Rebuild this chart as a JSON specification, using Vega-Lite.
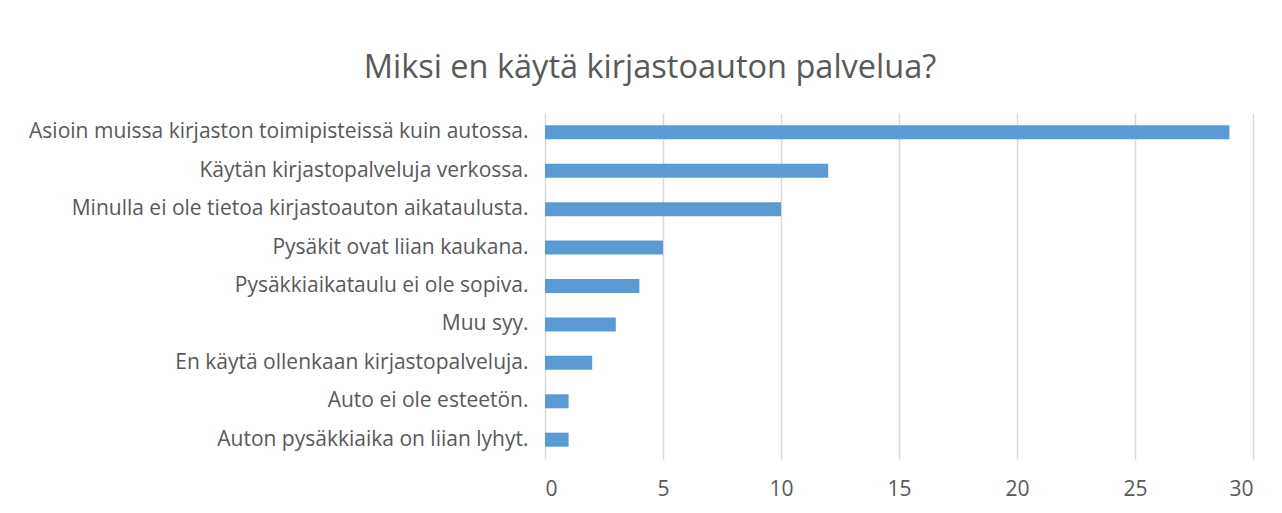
{
  "$schema": "https://vega.github.io/schema/vega-lite/v6.json",
  "autosize": "none",
  "width": 708,
  "height": 346,
  "padding": {"left": 545, "top": 113, "right": 29, "bottom": 54},
  "background": "white",
  "title": {
    "text": "Miksi en käytä kirjastoauton palvelua?",
    "font": "Open Sans",
    "fontSize": 32.5,
    "fontWeight": "normal",
    "color": "#595959",
    "anchor": "middle",
    "dx": -249,
    "offset": 29
  },
  "data": {
    "values": [
      {"syy": "Asioin muissa kirjaston toimipisteissä kuin autossa.", "n": 29},
      {"syy": "Käytän kirjastopalveluja verkossa.", "n": 12},
      {"syy": "Minulla ei ole tietoa kirjastoauton aikataulusta.", "n": 10},
      {"syy": "Pysäkit ovat liian kaukana.", "n": 5},
      {"syy": "Pysäkkiaikataulu ei ole sopiva.", "n": 4},
      {"syy": "Muu syy.", "n": 3},
      {"syy": "En käytä ollenkaan kirjastopalveluja.", "n": 2},
      {"syy": "Auto ei ole esteetön.", "n": 1},
      {"syy": "Auton pysäkkiaika on liian lyhyt.", "n": 1}
    ]
  },
  "mark": {"type": "bar", "color": "#5B9BD5"},
  "encoding": {
    "y": {
      "field": "syy",
      "type": "nominal",
      "sort": null,
      "scale": {"paddingInner": 0.635, "paddingOuter": 0.32},
      "axis": {
        "title": null,
        "domain": false,
        "ticks": false,
        "labelFont": "Open Sans",
        "labelFontSize": 21,
        "labelColor": "#595959",
        "labelPadding": 17,
        "labelLimit": 600
      }
    },
    "x": {
      "field": "n",
      "type": "quantitative",
      "scale": {"domain": [0, 30], "nice": false},
      "axis": {
        "title": null,
        "values": [0, 5, 10, 15, 20, 25, 30],
        "domain": false,
        "ticks": false,
        "grid": true,
        "gridColor": "#D9D9D9",
        "gridWidth": 1.5,
        "labelFont": "Open Sans",
        "labelFontSize": 21,
        "labelColor": "#595959",
        "labelPadding": 19
      }
    }
  },
  "config": {"view": {"stroke": null}}
}
